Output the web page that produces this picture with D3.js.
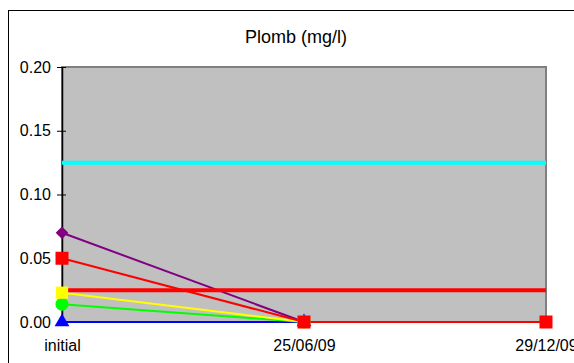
<!DOCTYPE html>
<html>
<head>
<meta charset="utf-8">
<script src="https://cdn.jsdelivr.net/npm/d3@7"></script>
<style>
  html, body { margin: 0; padding: 0; background: #fff; }
  svg { display: block; font-family: "Liberation Sans", Arial, sans-serif; }
</style>
</head>
<body>
<svg id="chart" width="574" height="363"></svg>
<script>
// Sampling dates along the x axis
const categories = ["initial", "25/06/09", "29/12/09"];
const yTicks = [0, 0.05, 0.10, 0.15, 0.20];

// Measured lead concentrations (mg/l) per sampling point; null = no sample
const purpleValues = [0.07, 0, null];
const redValues = [0.05, 0, 0];
const yellowValues = [0.023, 0, null];
const greenValues = [0.014, 0, null];
const blueValues = [0, 0, null];

// Reference limits (mg/l), drawn as flat lines across all dates
const limitHigh = [0.125, 0.125, 0.125];
const limitLow = [0.025, 0.025, 0.025];

const svg = d3.select("#chart");
const plot = { left: 62, right: 546, top: 67, bottom: 322 };
const font = '"Liberation Sans", Arial, sans-serif';

const x = d3.scalePoint().domain(categories).range([plot.left, plot.right]);
const y = d3.scaleLinear().domain([0, 0.20]).range([plot.bottom, plot.top]);

// Outer chart frame
svg.append("rect")
  .attr("x", 8.5).attr("y", 10.5)
  .attr("width", 600).attr("height", 400)
  .attr("fill", "#fff").attr("stroke", "#000").attr("stroke-width", 1);

// Title
svg.append("text")
  .attr("x", 296).attr("y", 43)
  .attr("text-anchor", "middle")
  .attr("font-size", 18)
  .text("Plomb (mg/l)");

// Plot area
svg.append("rect")
  .attr("x", plot.left).attr("y", plot.top)
  .attr("width", plot.right - plot.left).attr("height", plot.bottom - plot.top)
  .attr("fill", "#c0c0c0").attr("stroke", "#808080").attr("stroke-width", 2);

// Y axis
const yAxis = d3.axisLeft(y).tickValues(yTicks).tickFormat(d3.format(".2f"))
  .tickSizeInner(5).tickSizeOuter(0).tickPadding(6);
const gy = svg.append("g").attr("transform", `translate(${plot.left},0)`).call(yAxis);
gy.select(".domain").attr("stroke", "#000").attr("stroke-width", 1.5);
gy.selectAll(".tick line").attr("stroke", "#000").attr("x2", 4).attr("x1", -5);
gy.selectAll(".tick text").attr("font-size", 16).attr("fill", "#000")
  .attr("font-family", font);

// X axis labels
const xAxis = d3.axisBottom(x).tickSize(0).tickPadding(18);
const gx = svg.append("g").attr("transform", `translate(0,${plot.bottom})`).call(xAxis);
gx.select(".domain").remove();
gx.selectAll(".tick text").attr("font-size", 16).attr("fill", "#000")
  .attr("font-family", font);

function drawLine(values, color, width) {
  const pts = categories.map((c, i) => [c, values[i]]).filter(p => p[1] !== null);
  const line = d3.line().x(p => x(p[0])).y(p => y(p[1]));
  svg.append("path").datum(pts)
    .attr("d", line).attr("fill", "none")
    .attr("stroke", color).attr("stroke-width", width);
  return pts;
}

function drawMarkers(pts, color, type, size, rotate) {
  svg.append("g").selectAll("path").data(pts).join("path")
    .attr("transform", p => `translate(${x(p[0])},${y(p[1])}) rotate(${rotate})`)
    .attr("d", d3.symbol().type(type).size(size)())
    .attr("fill", color);
}

// Series definitions: colour and marker shape
const seriesDefs = [
  { values: blueValues, color: "#0000ff", type: d3.symbolTriangle, size: 95, rotate: 0 },
  { values: greenValues, color: "#00ff00", type: d3.symbolCircle, size: 133, rotate: 0 },
  { values: yellowValues, color: "#ffff00", type: d3.symbolSquare, size: 150, rotate: 0 },
  { values: purpleValues, color: "#800080", type: d3.symbolSquare, size: 80, rotate: 45 },
  { values: redValues, color: "#ff0000", type: d3.symbolSquare, size: 169, rotate: 0 }
];
const ptsList = seriesDefs.map(s => drawLine(s.values, s.color, 2));

// Limit lines
drawLine(limitHigh, "#00ffff", 4);
drawLine(limitLow, "#ff0000", 4);

// Markers
seriesDefs.forEach((s, i) => {
  drawMarkers(ptsList[i], s.color, s.type, s.size, s.rotate);
});
</script>
</body>
</html>
